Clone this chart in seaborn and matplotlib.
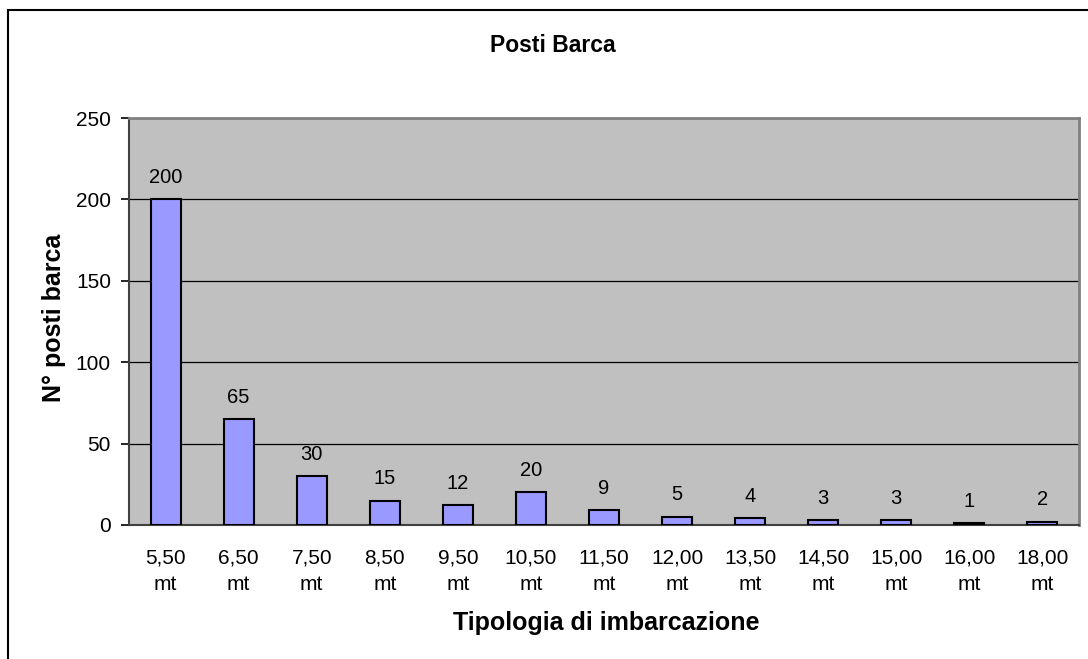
import numpy as np
import pandas as pd
import matplotlib
matplotlib.use("Agg")
import matplotlib.pyplot as plt
from matplotlib.patches import Rectangle
import seaborn as sns

# data
categorie = ["5,50\nmt", "6,50\nmt", "7,50\nmt", "8,50\nmt", "9,50\nmt", "10,50\nmt",
             "11,50\nmt", "12,00\nmt", "13,50\nmt", "14,50\nmt", "15,00\nmt",
             "16,00\nmt", "18,00\nmt"]
posti = [200, 65, 30, 15, 12, 20, 9, 5, 4, 3, 3, 1, 2]

df = pd.DataFrame({"tipologia": categorie, "posti": posti})

sns.set_theme(style="white")
plt.rcParams["font.family"] = ["Liberation Sans", "DejaVu Sans"]
plt.rcParams["text.color"] = "black"
plt.rcParams["xtick.color"] = "black"
plt.rcParams["ytick.color"] = "black"
plt.rcParams["axes.labelcolor"] = "black"

fig = plt.figure(figsize=(10.88, 6.59), dpi=100)
ax = fig.add_axes([129 / 1088, 1 - 525 / 659, 950 / 1088, 407 / 659])

# outer chart border (runs off the right and bottom edges)
fig.patches.append(Rectangle((8 / 1088, -0.05), 1.1, 1 - 10 / 659 + 0.05,
                             transform=fig.transFigure, fill=False,
                             edgecolor="black", linewidth=1.5, zorder=0))

ax.set_facecolor("#C0C0C0")
sns.barplot(data=df, x="tipologia", y="posti", color="#9999FF", saturation=1,
            width=0.41, edgecolor="black", linewidth=1.5, ax=ax, zorder=3)

ax.bar_label(ax.containers[0], fontsize=14.5, padding=9)

ax.set_ylim(0, 250)
ax.set_yticks([0, 50, 100, 150, 200, 250])
ax.set_xlim(-0.5, len(categorie) - 0.5)
ax.yaxis.grid(True, color="black", linewidth=0.9)
ax.set_axisbelow(True)

# ticks between categories like Excel
ax.set_xticks(np.arange(-0.5, len(categorie)), minor=True)
ax.tick_params(axis="x", which="major", length=0, pad=17, labelsize=15)
ax.tick_params(axis="x", which="minor", length=6, width=1.2, color="black", direction="out")
ax.tick_params(axis="y", length=6, width=1.2, color="black", direction="out",
               left=True, pad=7, labelsize=15)
for lbl in ax.get_xticklabels():
    lbl.set_linespacing(1.5)

for side in ["top", "right"]:
    ax.spines[side].set_color("#808080")
    ax.spines[side].set_linewidth(2)
for side in ["left", "bottom"]:
    ax.spines[side].set_color("#404040")
    ax.spines[side].set_linewidth(1.5)

ax.set_xlabel("")
ax.set_ylabel("")
fig.text(606 / 1088, 1 - 630 / 659, "Tipologia di imbarcazione",
         ha="center", va="baseline", fontsize=18, fontweight="bold")
fig.text(54 / 1088, 1 - 318 / 659, "N° posti barca", rotation=90,
         ha="center", va="center", fontsize=18, fontweight="bold")
fig.text(553 / 1088, 1 - 52 / 659, "Posti Barca",
         ha="center", va="baseline", fontsize=16.5, fontweight="bold")

fig.savefig("out.png", dpi=100)
